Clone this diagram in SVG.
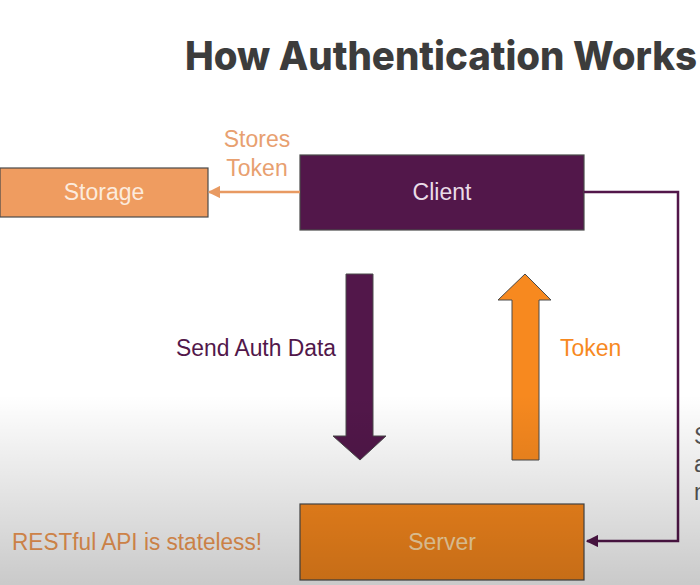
<svg xmlns="http://www.w3.org/2000/svg" width="700" height="585" viewBox="0 0 700 585">
  <defs>
    <style>
      .lbl { font-family: "Liberation Sans", "Noto Sans", Arial, sans-serif; font-size: 23px; }
      .box { stroke: #4a4a4a; stroke-width: 1.2; }
      .title { font-family: "Inter", "Open Sans", "Liberation Sans", sans-serif; font-weight: 800; font-size: 40px; fill: #3c3c3c; }
    </style>
    <marker id="headOrange" viewBox="0 0 10 10" refX="9" refY="5" markerWidth="5" markerHeight="5" orient="auto-start-reverse">
      <path d="M0,0 L10,5 L0,10 z" fill="#E89A62"/>
    </marker>
    <marker id="headPurple" viewBox="0 0 10 10" refX="9" refY="5" markerWidth="5" markerHeight="5" orient="auto-start-reverse">
      <path d="M0,0 L10,5 L0,10 z" fill="#52174A"/>
    </marker>
    <linearGradient id="shade" x1="0" y1="0" x2="0" y2="1">
      <stop offset="0" stop-color="#000" stop-opacity="0"/>
      <stop offset="1" stop-color="#000" stop-opacity="0.21"/>
    </linearGradient>
  </defs>

  <rect width="700" height="585" fill="#ffffff"/>

  <text class="title" x="185" y="70" textLength="512" lengthAdjust="spacingAndGlyphs">How Authentication Works</text>

  <g id="storage">
    <rect class="box" x="0" y="168" width="208" height="49" fill="#EF9C60"/>
    <text class="lbl" x="104" y="200" text-anchor="middle" fill="#FCEBDD">Storage</text>
  </g>

  <g id="client">
    <rect class="box" x="300" y="155" width="284" height="75" fill="#52174A"/>
    <text class="lbl" x="442" y="200" text-anchor="middle" fill="#EADCE8">Client</text>
  </g>

  <g id="server">
    <rect class="box" x="300" y="504" width="284" height="76" fill="#F9891D"/>
    <text class="lbl" x="442" y="550" text-anchor="middle" fill="#FFDDA8">Server</text>
  </g>

  <g id="connectors">
    <line x1="300" y1="192" x2="209" y2="192" stroke="#E89A62" stroke-width="2.5" marker-end="url(#headOrange)"/>
    <polyline points="584,192 678,192 678,541 587,541" fill="none" stroke="#52174A" stroke-width="2.5" marker-end="url(#headPurple)"/>
    <path d="M346,274 L373,274 L373,436 L386,436 L360,460 L333,436 L346,436 Z" fill="#52174A" stroke="#4a4a4a" stroke-width="1"/>
    <path d="M512,460 L539,460 L539,300 L551,300 L525,274 L498,300 L512,300 Z" fill="#F7891F" stroke="#4a4a4a" stroke-width="1"/>
  </g>

  <g id="labels">
    <text class="lbl" x="257" y="147" text-anchor="middle" fill="#E8A070">Stores</text>
    <text class="lbl" x="257" y="176" text-anchor="middle" fill="#E8A070">Token</text>
    <text class="lbl" x="176" y="356" fill="#52174A" textLength="160" lengthAdjust="spacingAndGlyphs">Send Auth Data</text>
    <text class="lbl" x="560" y="356" fill="#F7891F">Token</text>
    <text class="lbl" x="12" y="550" fill="#F29A55" textLength="250" lengthAdjust="spacingAndGlyphs">RESTful API is stateless!</text>
    <text class="lbl" x="694" y="444" fill="#555">S</text>
    <text class="lbl" x="694" y="472" fill="#555">a</text>
    <text class="lbl" x="694" y="500" fill="#555">n</text>
  </g>

  <!-- soft darkening toward the bottom edge -->
  <rect x="0" y="395" width="700" height="190" fill="url(#shade)" pointer-events="none"/>
</svg>
